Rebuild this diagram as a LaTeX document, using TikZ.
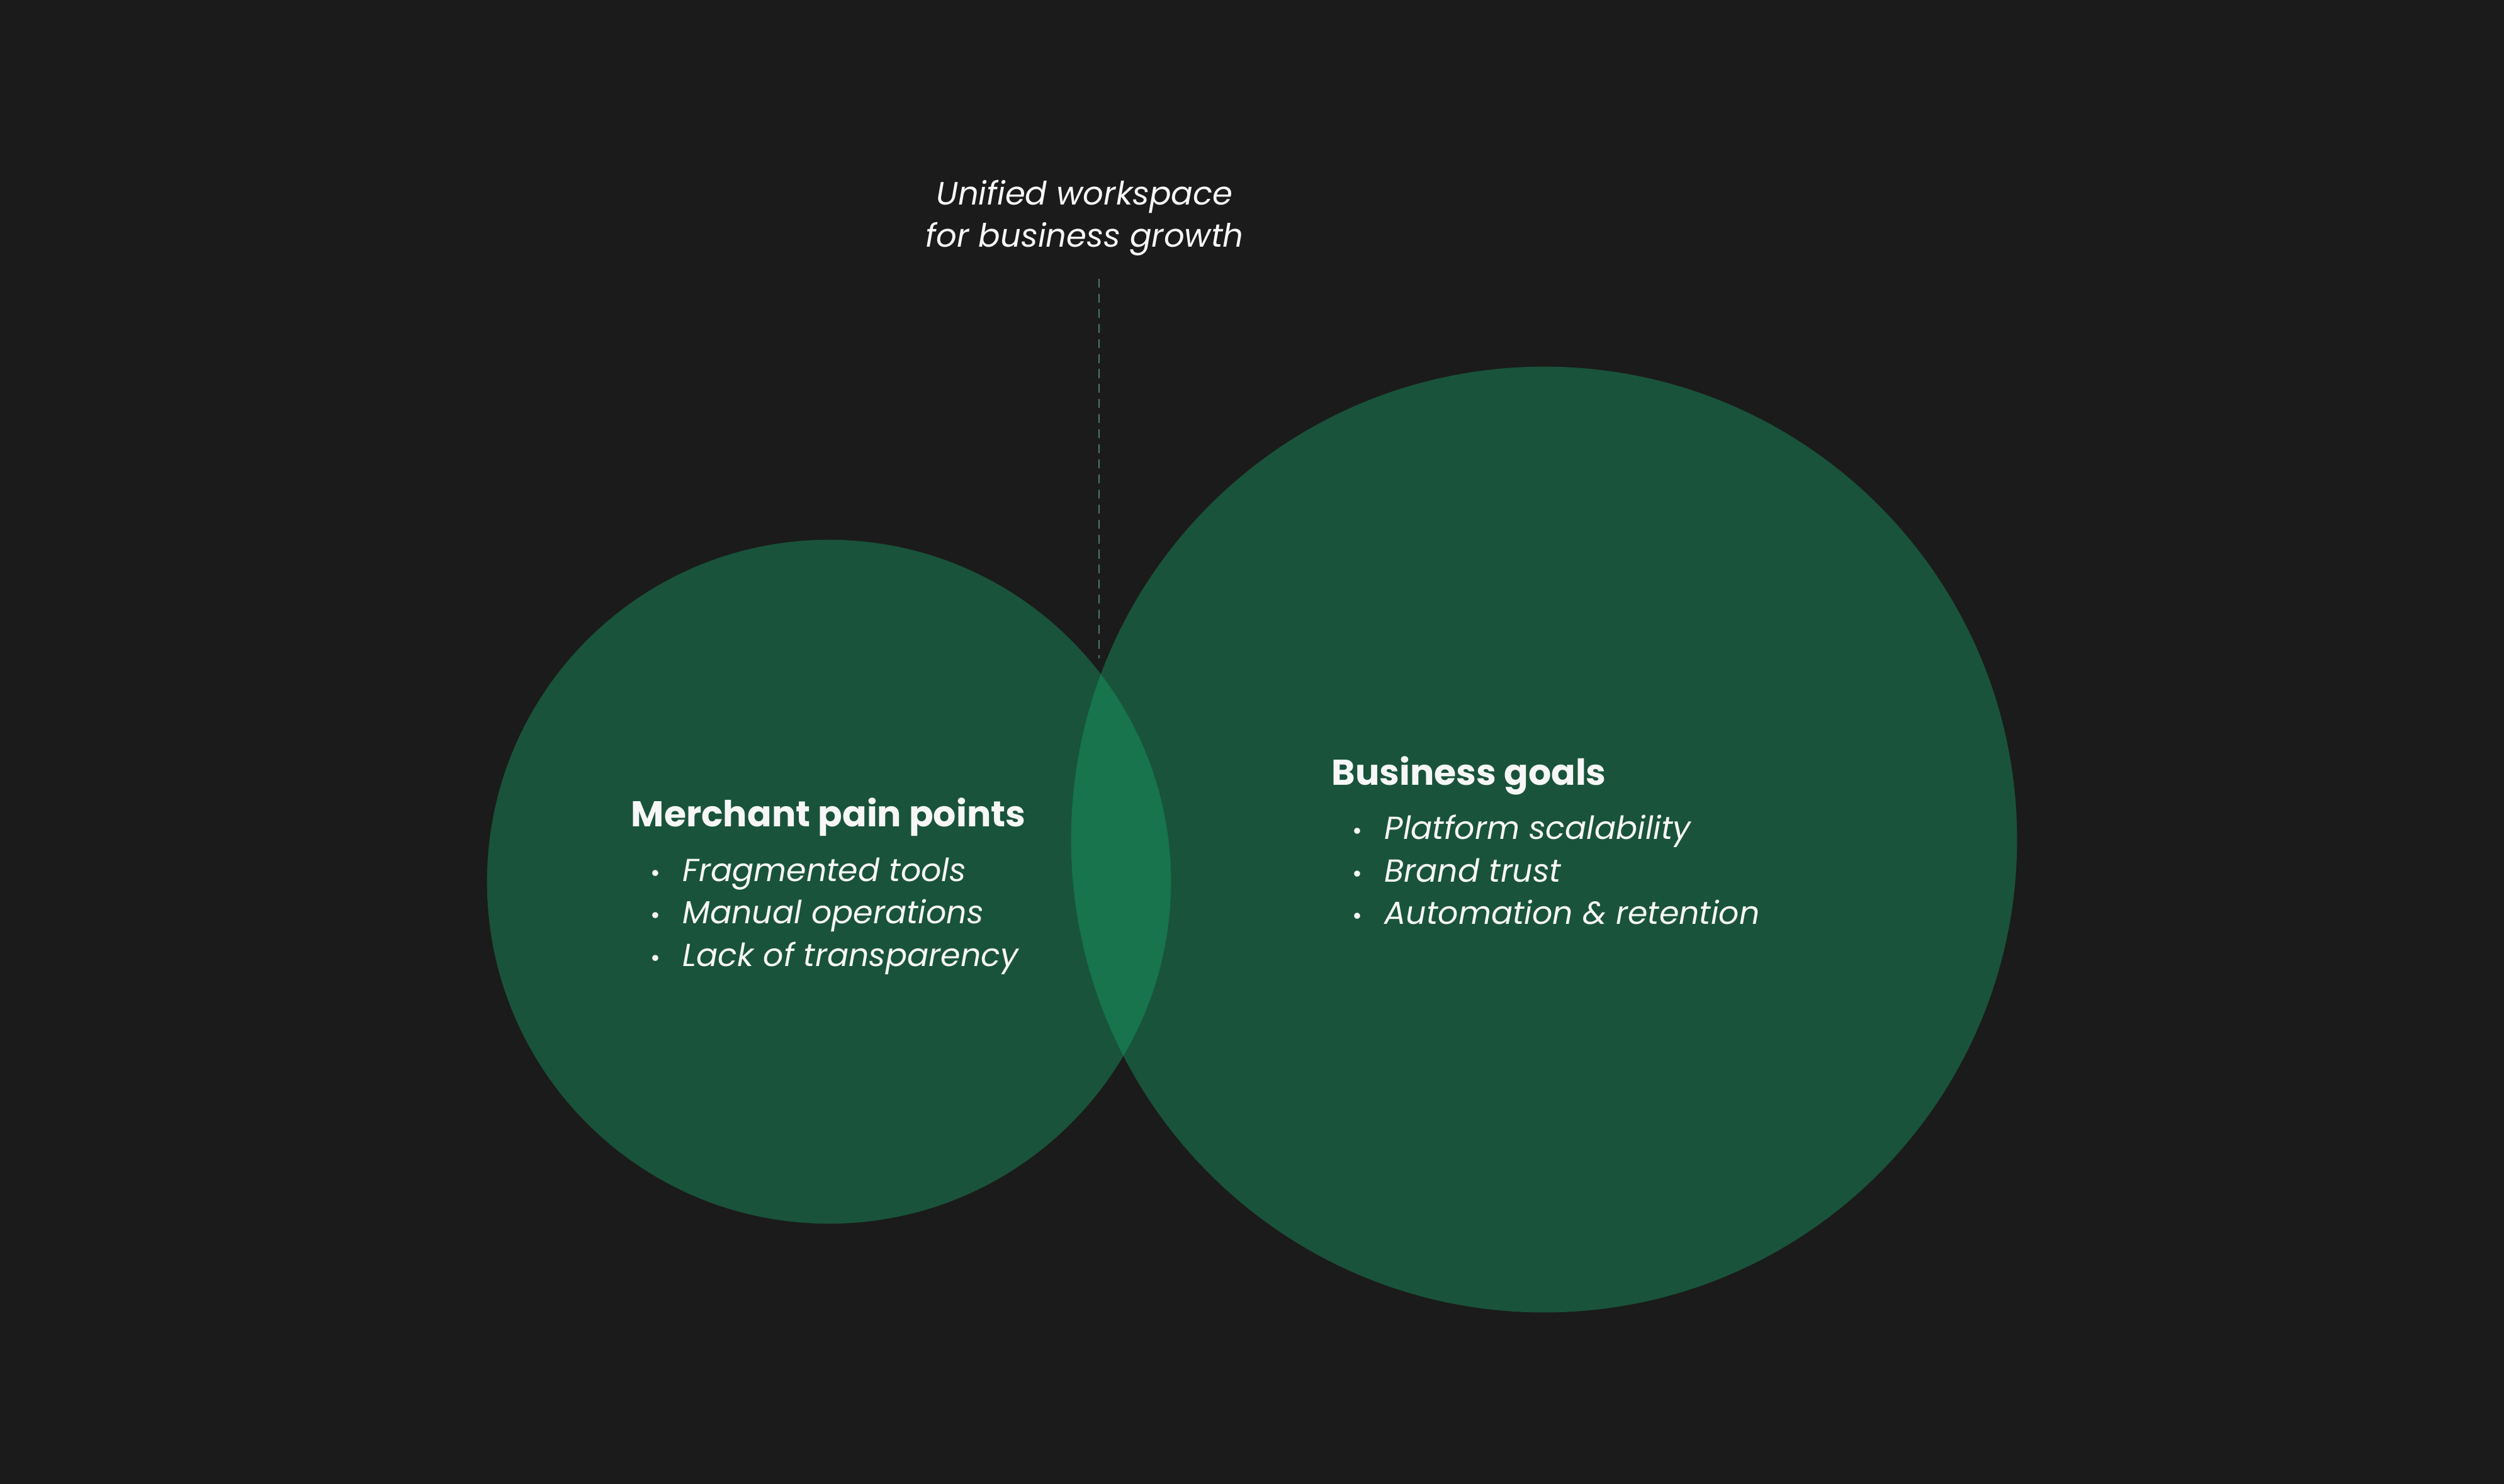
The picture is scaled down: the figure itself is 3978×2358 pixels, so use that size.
\documentclass[tikz,border=0pt]{standalone}
\usepackage{fontspec}
\setmainfont{Poppins}
\definecolor{bgc}{HTML}{1B1B1B}
\definecolor{circc}{HTML}{19533B}
\definecolor{overc}{HTML}{17744D}
\definecolor{dashc}{HTML}{4E7A6B}
\definecolor{txtc}{HTML}{F7F7F7}
\tikzset{
  head/.style={anchor=base west, inner sep=0pt, text=txtc, font=\fontsize{16.2}{19}\selectfont\bfseries},
  item/.style={anchor=base west, inner sep=0pt, text=txtc, font=\fontsize{14.4}{17}\selectfont\itshape},
  bul/.style={anchor=base, inner sep=0pt, text=txtc, font=\fontsize{11}{13}\selectfont},
  note/.style={anchor=base, inner sep=0pt, text=txtc, font=\fontsize{14.6}{17}\selectfont\itshape},
  venn/.style={circle, fill=circc, inner sep=0pt, draw=none},
  leader/.style={draw=dashc, line width=0.6pt, dash pattern=on 4pt off 2.8pt}
}
\begin{document}
\begin{tikzpicture}[x=0.01cm,y=-0.01cm]
\useasboundingbox (0,0) rectangle (3978,2358);
\fill[bgc] (0,0) rectangle (3978,2358);
% circles
\node[venn, minimum size=10.86cm] (pain) at (1317,1401) {};
\node[venn, minimum size=15.02cm] (goals) at (2453,1334) {};
\begin{scope}
  \clip (1317,1401) circle[radius=5.43cm];
  \fill[overc] (2453,1334) circle[radius=7.51cm];
\end{scope}
% top note
\node[note] (n1) at (1723,326) {Unified workspace};
\node[note] (n2) at (1723,393) {for business growth};
\coordinate (ltop) at (1746,443);
\coordinate (lbot) at (1746,1046);
\draw[leader] (ltop) -- (lbot);
% left texts
\node[head] (h1) at (1002,1313) {Merchant pain points};
\node[bul] (b11) at (1041,1400) {•};
\node[item] (i11) at (1084,1400) {Fragmented tools};
\node[bul] (b12) at (1041,1467) {•};
\node[item] (i12) at (1084,1467) {Manual operations};
\node[bul] (b13) at (1041,1535) {•};
\node[item] (i13) at (1084,1535) {Lack of transparency};
% right texts
\node[head] (h2) at (2115,1247) {Business goals};
\node[bul] (b21) at (2156,1333) {•};
\node[item] (i21) at (2199,1333) {Platform scalability};
\node[bul] (b22) at (2156,1401) {•};
\node[item] (i22) at (2199,1401) {Brand trust};
\node[bul] (b23) at (2156,1468) {•};
\node[item] (i23) at (2199,1468) {Automation \& retention};
\end{tikzpicture}
\end{document}
